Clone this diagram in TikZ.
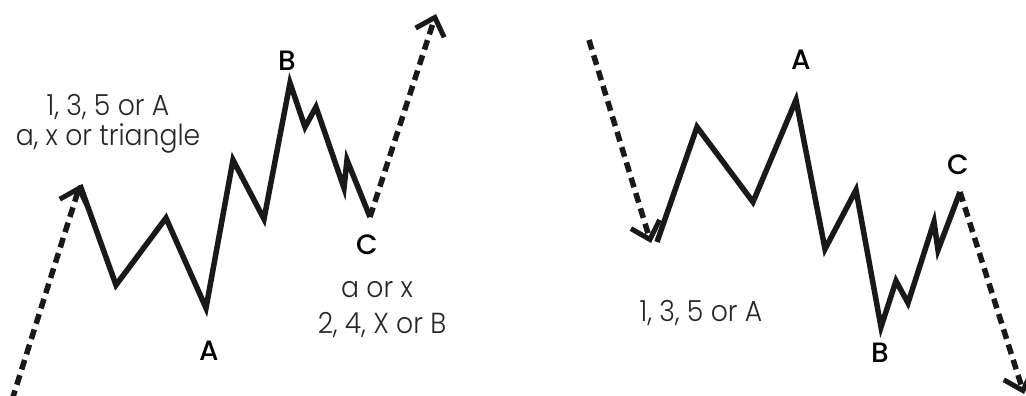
\documentclass[tikz,border=0pt]{standalone}
\usepackage{fontspec}
\usetikzlibrary{arrows.meta}
\newfontfamily\lblfont{Poppins}[UprightFont=* Medium]
\newfontfamily\txtfont{Poppins}[UprightFont=* Light, FakeStretch=0.92]
\tikzset{
  wave/.style={line width=5.5pt, line join=miter, draw=black!90},
  trend/.style={line width=5.5pt, dash pattern=on 10pt off 6pt, draw=black!90,
     -{Straight Barb[length=16pt,width=30pt,line width=5pt]}},
  lbl/.style={font=\lblfont\fontsize{28}{30}\selectfont, inner sep=0pt},
  txt/.style={font=\txtfont\fontsize{29}{34}\selectfont, inner sep=0pt, align=center, text=black!85},
}
\begin{document}
\begin{tikzpicture}[x=1pt,y=-1pt]
\useasboundingbox (0,0) rectangle (1026,396);
% left chart
\coordinate (l0) at (80,185);
\coordinate (l1) at (116,285);
\coordinate (l2) at (166,218);
\coordinate (l3) at (206,308);
\coordinate (l4) at (233,160);
\coordinate (l5) at (264,219);
\coordinate (l6) at (290,83);
\coordinate (l7) at (305,127);
\coordinate (l8) at (316,107);
\coordinate (l9) at (344,188);
\coordinate (l10) at (347,160);
\coordinate (l11) at (370,217);
\coordinate (ls) at (12,400);
\coordinate (le) at (436,14);
\draw[trend] (ls) -- (l0);
\draw[wave] (l0) -- (l1) -- (l2) -- (l3) -- (l4) -- (l5) -- (l6) -- (l7) -- (l8) -- (l9) -- (l10) -- (l11);
\draw[trend] (l11) -- (le);
\node[lbl] (lB) at (287,61) {B};
\node[lbl] (lA) at (209,351) {A};
\node[lbl] (lC) at (367,245) {C};
\node[txt] (lt1) at (108,107) {1, 3, 5 or A};
\node[txt] (lt2) at (108,138) {a, x or triangle};
\node[txt] (lt3) at (377,290) {a or x};
\node[txt] (lt4) at (382,325) {2, 4, X or B};
% right chart
\coordinate (r0) at (657,242);
\coordinate (r1) at (697,127);
\coordinate (r2) at (753,202);
\coordinate (r3) at (796,100);
\coordinate (r4) at (825,249);
\coordinate (r5) at (856,190);
\coordinate (r6) at (881,327);
\coordinate (r7) at (896,281);
\coordinate (r8) at (908,303);
\coordinate (r9) at (934,222);
\coordinate (r10) at (938,250);
\coordinate (r11) at (960,192);
\coordinate (rs) at (589,40);
\coordinate (re) at (1024,394);
\draw[trend] (rs) -- (651,243);
\draw[wave] (r0) -- (r1) -- (r2) -- (r3) -- (r4) -- (r5) -- (r6) -- (r7) -- (r8) -- (r9) -- (r10) -- (r11);
\draw[trend] (r11) -- (re);
\node[lbl] (rA) at (801,60) {A};
\node[lbl] (rC) at (958,165) {C};
\node[lbl] (rB) at (880,353) {B};
\node[txt] (rt1) at (701,313) {1, 3, 5 or A};
\end{tikzpicture}
\end{document}
